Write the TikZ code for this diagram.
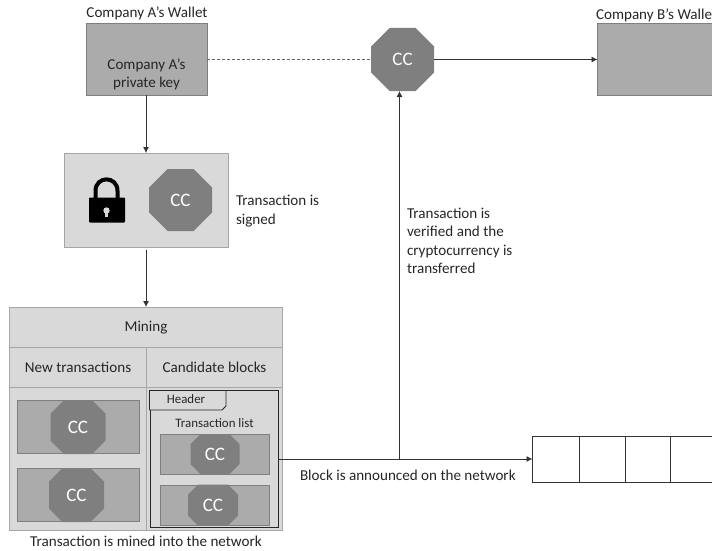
\documentclass[tikz,border=0pt]{standalone}
\usepackage{fontspec}
\setmainfont{Carlito}
\usetikzlibrary{arrows.meta}
\definecolor{txt}{HTML}{262626}
\definecolor{dk}{HTML}{ABABAB}
\definecolor{dkb}{HTML}{7F7F7F}
\definecolor{lt}{HTML}{D9D9D9}
\definecolor{ltb}{HTML}{A6A6A6}
\definecolor{oc}{HTML}{7F7F7F}
\tikzset{
  every node/.style={font=\fontsize{15.1}{18.5}\selectfont,text=txt,inner sep=0pt,outer sep=0pt},
  small/.style={font=\fontsize{12.9}{15}\selectfont},
  wallet/.style={draw=dkb,fill=dk,line width=.8pt,minimum width=#1,anchor=north west,minimum height=72pt},
  band/.style={draw=ltb,fill=lt,line width=.9pt,anchor=north west},
  slot/.style={draw=dkb,fill=dk,line width=.9pt,anchor=north west},
  octa/.style={text=white,font=\fontsize{19}{20}\selectfont,
    path picture={\fill[oc]
      ([xshift=#1]path picture bounding box.north west) --
      ([xshift=-#1]path picture bounding box.north east) --
      ([yshift=-#1]path picture bounding box.north east) --
      ([yshift=#1]path picture bounding box.south east) --
      ([xshift=-#1]path picture bounding box.south east) --
      ([xshift=#1]path picture bounding box.south west) --
      ([yshift=#1]path picture bounding box.south west) --
      ([yshift=-#1]path picture bounding box.north west) -- cycle;}},
  cell/.style={draw=black!80,line width=.7pt,anchor=north west,minimum width=#1,minimum height=46pt},
  flow/.style={draw=black!80,line width=.8pt,-{Latex[length=6pt,width=6pt]}},
  plain/.style={draw=black!80,line width=.8pt},
  lab/.style={align=left,anchor=west},
}
\begin{document}
\begin{tikzpicture}[x=1pt,y=-1pt]
\useasboundingbox (0,0) rectangle (712,551);
\clip (0,0) rectangle (712,551);

% wallets
\node[wallet=121pt] (wa) at (86,23) {};
\node[align=center] (wakey) at (146.5,74.5) {Company A’s\\private key};
\node (watitle) at (147,13.5) {Company A’s Wallet};
\node[wallet=130pt] (wb) at (597.5,23) {};
\node[anchor=west] (wbtitle) at (596,15) {Company B’s Wallet};

% central CC
\node[octa=18.5pt,minimum width=63pt,minimum height=63pt] (cc) at (402.5,59.5) {CC};

% signed box
\node[band,minimum width=164pt,minimum height=94pt] (signed) at (64,153) {};
\node[octa=18.5pt,minimum width=63pt,minimum height=62pt] (ccs) at (180.5,200) {CC};
\node[lab] (signedlab) at (236,211) {Transaction is\\signed};
% lock
\fill[black,rounded corners=.8pt] (89,197.5) rectangle (125,222.5);
\draw[black,line width=4pt] (95.5,198) -- (95.5,191) .. controls (95.5,175.5) and (117.5,175.5) .. (117.5,191) -- (117.5,198);
\fill[lt] (106.5,210.5) circle[radius=3.2];
\fill[lt] (105,211) rectangle (108,216.5);

% mining table
\node[band,minimum width=273pt,minimum height=40pt] (mining) at (9.5,307) {};
\node at (146,328) {Mining};
\node[band,minimum width=136.5pt,minimum height=40pt] (newtx) at (9.5,347) {};
\node at (78,367) {New transactions};
\node[band,minimum width=136.5pt,minimum height=40pt] (cand) at (146,347) {};
\node at (214.5,367) {Candidate blocks};
\node[band,minimum width=136.5pt,minimum height=143pt] (newbody) at (9.5,387) {};
\node[band,minimum width=136.5pt,minimum height=143pt] (candbody) at (146,387) {};

% new transactions
\node[slot,minimum width=122pt,minimum height=53.5pt] (s1) at (17,400) {};
\node[octa=13.5pt,minimum width=55pt,minimum height=54pt] (c1) at (78,427) {CC};
\node[slot,minimum width=122pt,minimum height=53.5pt] (s2) at (17,468) {};
\node[octa=13.5pt,minimum width=55pt,minimum height=54pt] (c2) at (76.5,495) {CC};

% candidate block
\node[draw=black!85,line width=.8pt,anchor=north west,minimum width=128.5pt,minimum height=137pt] (block) at (150,390.5) {};
\draw[draw=black!85,fill=lt,line width=.8pt] (149.5,390.5) -- (226,390.5) -- (226,406) -- (222,410) -- (149.5,410) -- cycle;
\node[small] (hdr) at (186,399) {Header};
\node[small] (tl) at (214.5,423.5) {Transaction list};
\node[slot,minimum width=109pt,minimum height=40pt] (s3) at (160,434) {};
\node[octa=10pt,minimum width=49pt,minimum height=40pt] (c3) at (215,454) {CC};
\node[slot,minimum width=109pt,minimum height=40pt] (s4) at (160,485) {};
\node[octa=10pt,minimum width=50pt,minimum height=41pt] (c4) at (213,505) {CC};

% chain
\node[cell=47pt] (b1) at (532.5,436) {};
\node[cell=46pt] (b2) at (579,436) {};
\node[cell=45pt] (b3) at (625,436) {};
\node[cell=60pt] (b4) at (670,436) {};

% connectors
\draw[flow] (146,95) -- (signed.north -| 146,153);
\coordinate (sfrom) at (146,250);
\draw[flow] (sfrom) -- (mining.north -| 146,307);
\draw[plain,densely dashed,draw=black!60] (wa.east |- cc.west) -- (cc.west);
\draw[flow] (cc.east) -- (wb.west |- cc.east);
\coordinate (jn) at (399.5,459);
\draw[flow] (block.east |- jn) -- (b1.west);
\draw[flow] (jn) -- (399.5,91);

% labels
\node[lab] (blab) at (300,475) {Block is announced on the network};
\node[lab] (vlab) at (407,241) {Transaction is\\verified and the\\cryptocurrency is\\transferred};
\node (mlab) at (146,541.5) {Transaction is mined into the network};
\end{tikzpicture}
\end{document}
